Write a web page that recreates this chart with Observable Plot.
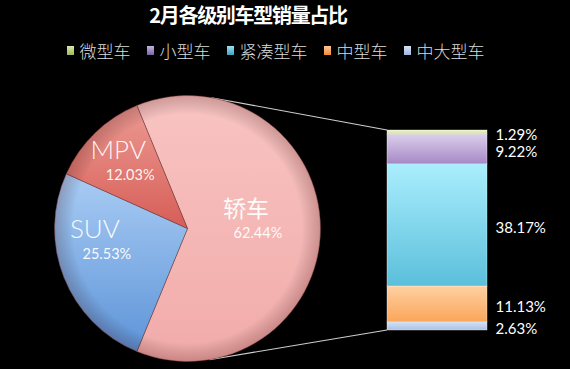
<!DOCTYPE html>
<html>
<head>
<meta charset="utf-8">
<script src="https://cdn.jsdelivr.net/npm/d3@7"></script>
<script src="https://cdn.jsdelivr.net/npm/@observablehq/plot@0.6"></script>
<style>
  html, body { margin: 0; padding: 0; background: #000; }
  body { width: 570px; height: 369px; overflow: hidden; font-family: "Noto Sans CJK SC", sans-serif; }
  #title { height: 30px; line-height: 30px; text-align: center; color: #fff; font-size: 20px; font-weight: 700; padding-right: 74px; letter-spacing: -1.3px; }
  #legend { height: 40px; display: flex; justify-content: center; align-items: center; padding-right: 19px; color: #dcdcdc; font-size: 17px; font-weight: 300; }
  .item { display: flex; align-items: center; margin: 0 8px; }
  .sw { width: 7px; height: 9px; margin-right: 6px; }
  #chart svg { display: block; }
</style>
</head>
<body>
<div id="title">2月各级别车型销量占比</div>
<div id="legend"></div>
<div id="chart"></div>
<script>
// ---- data ----
const pieNames = ["轿车", "SUV", "MPV"];
const pieValues = [62.44, 25.53, 12.03];
const barNames = ["微型车", "小型车", "紧凑型车", "中型车", "中大型车"];
const barValues = [1.29, 9.22, 38.17, 11.13, 2.63];
const barCategory = "轿车";

// ---- style ----
const pieTop = ["#f8c4c2", "#a9ccf4", "#ec9a93"];
const pieBottom = ["#f1aba9", "#5e94d8", "#d65e57"];
const barTop = ["#eef3cf", "#dccfeb", "#aaeefd", "#fed0a2", "#d8e3f4"];
const barBottom = ["#d3e0a0", "#a689c6", "#5bbfdb", "#fba65a", "#a9c0e3"];
const swatchTop = ["#d6e8a8", "#c3b2de", "#9be2f2", "#fcc796", "#d6e1f3"];
const swatchBottom = ["#9cbc5a", "#7e62a8", "#3aa3c2", "#f58a36", "#9fb7e0"];

// legend (HTML)
const legend = document.getElementById("legend");
barNames.forEach((n, i) => {
  const it = document.createElement("div");
  it.className = "item";
  const sw = document.createElement("div");
  sw.className = "sw";
  sw.style.background = `linear-gradient(${swatchTop[i]}, ${swatchBottom[i]})`;
  const t = document.createElement("span");
  t.textContent = n;
  it.appendChild(sw); it.appendChild(t);
  legend.appendChild(it);
});

// ---- layout ----
const W = 570, H = 299;
const cx = 187.5, cy = 158.5, R = 133;
const total = d3.sum(barValues);
const pieTotal = d3.sum(pieValues);
const startAngle = Math.PI / 2 - (pieValues[0] / pieTotal) * Math.PI; // split slice faces the bar
const labelRadius = 0.62 * R;
const labelNudge = [[-18, -8], [-10, -18], [-6, -7]];
const nameFont = ["Noto Sans CJK SC", "Lato", "Lato"];
const nameSize = [23, 26, 26];

const barData = barNames.map((name, i) => ({name, value: barValues[i], i})).reverse();
const pieData = pieNames.map((name, i) => ({name, value: pieValues[i], i}));

function pieMark(index, scales, values, dimensions, context) {
  const g = d3.create("svg:g");
  const defs = g.append("defs");
  pieData.forEach((d, i) => {
    const lg = defs.append("linearGradient").attr("id", `pie-grad-${i}`).attr("x1", 0).attr("y1", 0).attr("x2", 0).attr("y2", 1);
    lg.append("stop").attr("offset", "0%").attr("stop-color", pieTop[i]);
    lg.append("stop").attr("offset", "100%").attr("stop-color", pieBottom[i]);
  });
  barNames.forEach((d, i) => {
    const lg = defs.append("linearGradient").attr("id", `bar-grad-${i}`).attr("x1", 0).attr("y1", 0).attr("x2", 0).attr("y2", 1);
    lg.append("stop").attr("offset", "0%").attr("stop-color", barTop[i]);
    lg.append("stop").attr("offset", "100%").attr("stop-color", barBottom[i]);
  });
  const rg = defs.append("radialGradient").attr("id", "rim").attr("cx", 0.5).attr("cy", 0.5).attr("r", 0.5);
  rg.append("stop").attr("offset", "86%").attr("stop-color", "#000").attr("stop-opacity", 0);
  rg.append("stop").attr("offset", "100%").attr("stop-color", "#400").attr("stop-opacity", 0.22);

  // connector lines: tangents from the bar's left corners to the pie
  const bx = scales.x(barCategory);
  const corners = [[bx, scales.y(total), -1], [bx, scales.y(0), 1]];
  corners.forEach(([px, py, s]) => {
    const dx = px - cx, dy = py - cy, d = Math.hypot(dx, dy);
    const a = Math.atan2(dy, dx) + s * Math.acos(R / d);
    const tx = cx + R * Math.cos(a), ty = cy + R * Math.sin(a);
    g.append("line").attr("x1", tx).attr("y1", ty).attr("x2", px).attr("y2", py)
      .attr("stroke", "#cfcfcf").attr("stroke-width", 1.1);
  });

  const pie = d3.pie().value(d => d.value).sort(null).startAngle(startAngle).endAngle(startAngle + 2 * Math.PI);
  const arcs = pie(pieData);
  const arc = d3.arc().innerRadius(0).outerRadius(R);
  const gp = g.append("g").attr("transform", `translate(${cx},${cy})`);
  gp.selectAll("path.slice").data(arcs).join("path")
    .attr("d", arc)
    .attr("fill", (d, i) => `url(#pie-grad-${i})`)
    .attr("stroke", "rgba(110,50,50,0.55)")
    .attr("stroke-width", 0.8);
  gp.append("circle").attr("r", R).attr("fill", "url(#rim)");

  const larc = d3.arc().innerRadius(labelRadius).outerRadius(labelRadius);
  arcs.forEach((a, i) => {
    const [lx, ly] = larc.centroid(a);
    const ax = lx + labelNudge[i][0], ay = ly + labelNudge[i][1];
    const cjk = nameFont[i] !== "Lato";
    gp.append("text")
      .attr("x", ax - 6).attr("y", ay - 12.5 + (cjk ? 0.38 : 0.36) * nameSize[i])
      .attr("text-anchor", "middle")
      .attr("font-family", nameFont[i]).attr("font-size", nameSize[i])
      .attr("font-weight", cjk ? 400 : 300)
      .attr("fill", "#fff").attr("fill-opacity", 0.95)
      .text(a.data.name);
    gp.append("text")
      .attr("x", ax + 6).attr("y", ay + 12.5 + 0.36 * 14.5)
      .attr("text-anchor", "middle")
      .attr("font-family", "Lato").attr("font-size", 14.5)
      .attr("fill", "#fff").attr("fill-opacity", 0.95)
      .text(a.data.value.toFixed(2) + "%");
  });
  return g.node();
}

const chart = Plot.plot({
  width: W,
  height: H,
  margin: 0,
  style: {background: "transparent"},
  x: {type: "band", domain: [barCategory], range: [387, 487], padding: 0, axis: null},
  y: {domain: [0, total], range: [260, 60], axis: null},
  color: {domain: barNames, range: barNames.map((d, i) => `url(#bar-grad-${i})`)},
  marks: [
    pieMark,
    Plot.barY(barData, Plot.stackY({
      x: () => barCategory, y: "value", fill: "name",
      stroke: "#ffffff", strokeOpacity: 0.45, strokeWidth: 0.8
    })),
    Plot.text(barData, Plot.stackY({
      x: () => barCategory, y: "value",
      text: d => d.value.toFixed(2) + "%",
      textAnchor: "start", dx: 58, dy: 3,
      fill: "#ffffff", fontFamily: "Lato", fontSize: 15
    }))
  ]
});
document.getElementById("chart").appendChild(chart);
</script>
</body>
</html>
